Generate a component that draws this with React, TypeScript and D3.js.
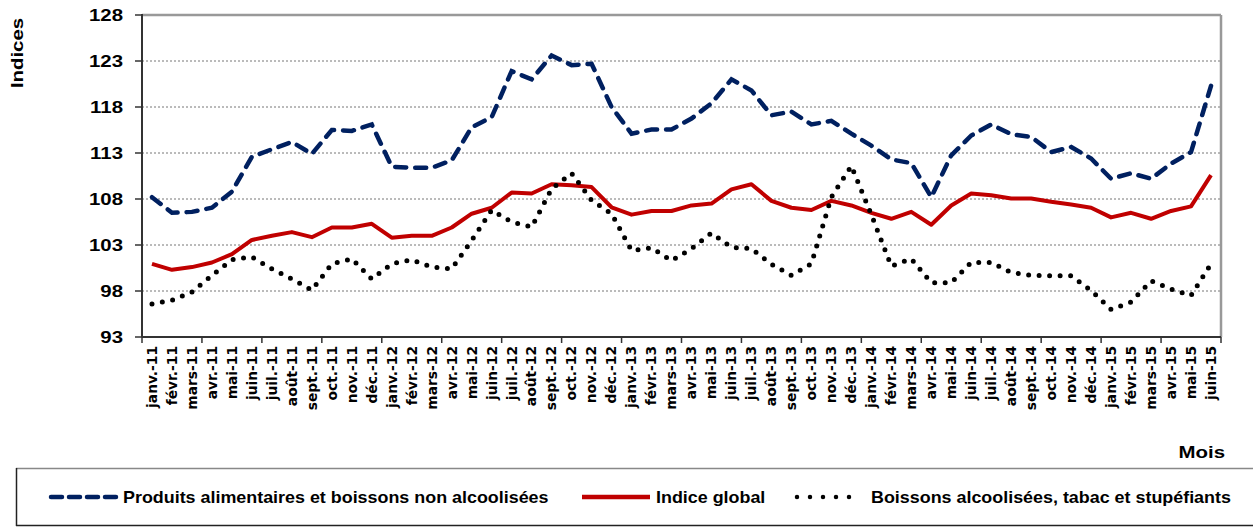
import React from 'react'
import * as d3 from 'd3'

const moisNoms = ['janv.', 'févr.', 'mars', 'avr.', 'mai', 'juin', 'juil.', 'août', 'sept.', 'oct.', 'nov.', 'déc.']
const annees = ['11', '12', '13', '14', '15']
const categories: string[] = []
annees.forEach(a => moisNoms.forEach(m => {
  if (categories.length < 54) categories.push(`${m}-${a}`)
}))

const yTicks = [93, 98, 103, 108, 113, 118, 123, 128]

const alimentaires = [
  108.2, 106.5, 106.6, 107.05, 108.8, 112.6, 113.4, 114.2, 112.9, 115.5, 115.4, 116.1,
  111.5, 111.4, 111.4, 112.2, 115.8, 116.9, 121.9, 121.0, 123.6, 122.55, 122.7, 118.0,
  115.1, 115.55, 115.55, 116.75, 118.4, 121.0, 119.8, 117.1, 117.5, 116.1, 116.5, 115.1,
  113.8, 112.3, 111.9, 108.2, 112.75, 114.9, 116.1, 115.05, 114.75, 113.1, 113.65, 112.4,
  110.2, 110.8, 110.2, 111.85, 113.1, 120.3
]
const global = [
  100.95, 100.3, 100.6, 101.1, 102.0, 103.55, 104.0, 104.4, 103.85, 104.9, 104.9, 105.3,
  103.8, 104.0, 104.0, 104.9, 106.4, 107.05, 108.7, 108.6, 109.6, 109.5, 109.3, 107.1,
  106.3, 106.7, 106.7, 107.3, 107.5, 109.05, 109.6, 107.8, 107.05, 106.8, 107.8, 107.3,
  106.5, 105.85, 106.6, 105.2, 107.3, 108.6, 108.4, 108.05, 108.05, 107.7, 107.4, 107.05,
  106.0, 106.5, 105.85, 106.7, 107.2, 110.6
]
const alcool = [
  96.6, 97.0, 97.9, 99.7, 101.4, 101.7, 100.4, 99.3, 98.1, 100.95, 101.5, 99.3,
  100.95, 101.4, 100.6, 100.4, 103.5, 106.8, 105.5, 104.95, 109.1, 110.8, 107.85, 106.4,
  102.4, 102.7, 101.3, 102.6, 104.3, 102.75, 102.6, 100.9, 99.7, 100.95, 108.2, 111.6,
  106.3, 100.7, 101.5, 98.9, 98.9, 101.1, 101.1, 100.0, 99.7, 99.65, 99.65, 98.05,
  96.0, 96.8, 99.1, 98.2, 97.5, 100.95
]

const W = 1253
const H = 528
const plot = { left: 142, right: 1221, top: 15, bottom: 337 }

export default function App() {
  const x = d3.scaleBand<string>().domain(categories).range([plot.left, plot.right]).padding(0)
  const y = d3.scaleLinear().domain([93, 128]).range([plot.bottom, plot.top])
  const cx = (i: number) => (x(categories[i]) as number) + x.bandwidth() / 2

  const line = d3.line<number>().x((_, i) => cx(i)).y(d => y(d))

  // tick marks every 3 months, on category boundaries
  const tickPos = categories.map((_, i) => i).filter(i => i % 3 === 0).map(i => x(categories[i]) as number)
  tickPos.push(plot.right)

  const bold = { fontWeight: 'bold' as const, fill: '#000' }
  const arial = 'Liberation Sans, Arial, sans-serif'
  const sx = 1.2 // source text is drawn wider than Arial
  const lx = 1.085

  return (
    <svg width={W} height={H} style={{ position: 'absolute', left: 0, top: 0, background: '#fff' }}>
      {/* grid */}
      {yTicks.filter(t => t !== 93 && t !== 128).map(t => (
        <line key={t} x1={plot.left} x2={plot.right} y1={y(t)} y2={y(t)}
          stroke="#777" strokeWidth={1} strokeDasharray="2,2" />
      ))}
      {/* frame */}
      <line x1={plot.left} x2={plot.right} y1={plot.top} y2={plot.top} stroke="#999" strokeWidth={2.5} />
      <line x1={plot.right} x2={plot.right} y1={plot.top} y2={plot.bottom} stroke="#999" strokeWidth={2.5} />
      <line x1={plot.left} x2={plot.left} y1={plot.top - 1} y2={plot.bottom} stroke="#333" strokeWidth={2} />
      <line x1={plot.left} x2={plot.right} y1={plot.bottom} y2={plot.bottom} stroke="#333" strokeWidth={2} />

      {/* y axis */}
      {yTicks.map(t => (
        <g key={t}>
          <line x1={plot.left - 7} x2={plot.left} y1={y(t)} y2={y(t)} stroke="#333" strokeWidth={1.5} />
          <text transform={`translate(123,${y(t)}) scale(${sx},1)`} dy="0.35em" textAnchor="end"
            fontFamily={arial} fontSize={17} {...bold}>{t}</text>
        </g>
      ))}
      <text transform={`translate(23,53) rotate(-90) scale(${sx},1)`} textAnchor="middle"
        fontFamily={arial} fontSize={17} {...bold}>Indices</text>

      {/* x axis */}
      {tickPos.map((p, i) => (
        <line key={i} x1={p} x2={p} y1={plot.bottom} y2={plot.bottom + 6} stroke="#333" strokeWidth={1.5} />
      ))}
      {categories.map((c, i) => (
        <text key={c} transform={`translate(${cx(i)},${plot.bottom + 9}) rotate(-90)`} dy="0.35em"
          textAnchor="end" fontFamily="DejaVu Sans, Verdana, sans-serif" fontSize={13.8} {...bold}>{c}</text>
      ))}
      <text transform={`translate(1225,458) scale(${sx},1)`} textAnchor="end"
        fontFamily={arial} fontSize={17} {...bold}>Mois</text>

      {/* series */}
      <path d={line(alimentaires) || ''} fill="none" stroke="#002060" strokeWidth={4.5}
        strokeDasharray="11 9" strokeLinecap="round" />
      <path d={line(global) || ''} fill="none" stroke="#C00000" strokeWidth={4} strokeLinejoin="round" />
      <path d={line(alcool) || ''} fill="none" stroke="#000" strokeWidth={5}
        strokeDasharray="0 10.5" strokeLinecap="round" />

      {/* legend */}
      <line x1={16} x2={W + 5} y1={468.5} y2={468.5} stroke="#888" strokeWidth={1.5} />
      <line x1={16} x2={W + 5} y1={525.5} y2={525.5} stroke="#222" strokeWidth={1.5} />
      <line x1={16.5} x2={16.5} y1={468} y2={526} stroke="#222" strokeWidth={1.5} />

      <line x1={51} x2={118} y1={497} y2={497} stroke="#002060" strokeWidth={4.5} strokeDasharray="11 7" strokeLinecap="round" />
      <text transform={`translate(123,497) scale(${lx},1)`} dy="0.35em" fontFamily={arial} fontSize={16.5} {...bold}>Produits alimentaires et boissons non alcoolisées</text>

      <line x1={582} x2={650} y1={497} y2={497} stroke="#C00000" strokeWidth={4.5} />
      <text transform={`translate(656,497) scale(${lx},1)`} dy="0.35em" fontFamily={arial} fontSize={16.5} {...bold}>Indice global</text>

      <line x1={797} x2={862} y1={497} y2={497} stroke="#000" strokeWidth={4.5} strokeDasharray="0 13" strokeLinecap="round" />
      <text transform={`translate(871,497) scale(${lx},1)`} dy="0.35em" fontFamily={arial} fontSize={16.5} {...bold}>Boissons alcoolisées, tabac et stupéfiants</text>
    </svg>
  )
}
